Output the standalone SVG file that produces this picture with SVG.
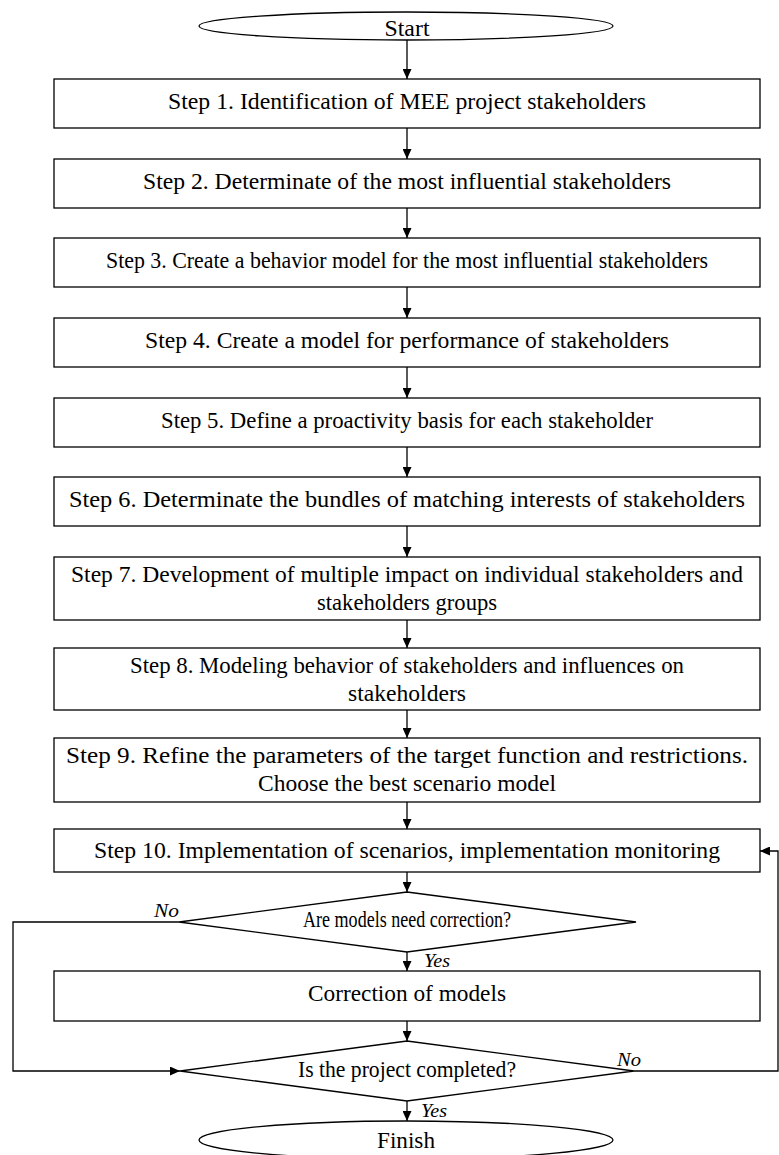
<svg xmlns="http://www.w3.org/2000/svg" width="779" height="1155" viewBox="0 0 779 1155">
<style>
.s{fill:#fff;stroke:#000;stroke-width:1.3}
.t{font-family:"Liberation Serif","Times New Roman",serif;font-size:24px;fill:#000;text-anchor:middle}
.i{font-family:"Liberation Serif","Times New Roman",serif;font-size:18px;font-style:italic;fill:#000}
.c{fill:none;stroke:#000;stroke-width:1.3}
</style>
<defs>
<marker id="ah" markerUnits="userSpaceOnUse" markerWidth="10" markerHeight="9" refX="10" refY="4.5" orient="auto">
<path d="M0,0 L10,4.5 L0,9 z" fill="#000"/>
</marker>
</defs>
<rect width="779" height="1155" fill="#fff"/>
<g id="start"><ellipse class="s" cx="406" cy="26" rx="207" ry="14"/><text class="t" x="407" y="36" font-size="22" textLength="45" lengthAdjust="spacingAndGlyphs">Start</text></g>
<g id="step1"><rect class="s" x="54" y="79" width="706" height="49"/><text class="t" x="407" y="109" textLength="478" lengthAdjust="spacingAndGlyphs">Step 1. Identification of MEE project stakeholders</text></g>
<g id="step2"><rect class="s" x="54" y="159" width="706" height="49"/><text class="t" x="407" y="189" textLength="528" lengthAdjust="spacingAndGlyphs">Step 2. Determinate of the most influential stakeholders</text></g>
<g id="step3"><rect class="s" x="54" y="238" width="706" height="49"/><text class="t" x="407" y="268" font-size="22" textLength="602" lengthAdjust="spacingAndGlyphs">Step 3. Create a behavior model for the most influential stakeholders</text></g>
<g id="step4"><rect class="s" x="54" y="318" width="706" height="49"/><text class="t" x="407" y="348" textLength="524" lengthAdjust="spacingAndGlyphs">Step 4. Create a model for performance of stakeholders</text></g>
<g id="step5"><rect class="s" x="54" y="398" width="706" height="49"/><text class="t" x="407" y="428" textLength="492" lengthAdjust="spacingAndGlyphs">Step 5. Define a proactivity basis for each stakeholder</text></g>
<g id="step6"><rect class="s" x="54" y="477" width="706" height="49"/><text class="t" x="407" y="507" textLength="676" lengthAdjust="spacingAndGlyphs">Step 6. Determinate the bundles of matching interests of stakeholders</text></g>
<g id="step7"><rect class="s" x="54" y="557" width="706" height="63"/><text class="t" x="407" y="582" textLength="672" lengthAdjust="spacingAndGlyphs">Step 7. Development of multiple impact on individual stakeholders and</text><text class="t" x="407" y="610" textLength="180" lengthAdjust="spacingAndGlyphs">stakeholders groups</text></g>
<g id="step8"><rect class="s" x="54" y="648" width="706" height="62"/><text class="t" x="407" y="673" textLength="554" lengthAdjust="spacingAndGlyphs">Step 8. Modeling behavior of stakeholders and influences on</text><text class="t" x="407" y="701" textLength="118" lengthAdjust="spacingAndGlyphs">stakeholders</text></g>
<g id="step9"><rect class="s" x="54" y="738" width="706" height="64"/><text class="t" x="407" y="763" textLength="682" lengthAdjust="spacingAndGlyphs">Step 9. Refine the parameters of the target function and restrictions.</text><text class="t" x="407" y="791" textLength="298" lengthAdjust="spacingAndGlyphs">Choose the best scenario model</text></g>
<g id="step10"><rect class="s" x="54" y="829" width="706" height="43"/><text class="t" x="407" y="858" textLength="626" lengthAdjust="spacingAndGlyphs">Step 10. Implementation of scenarios, implementation monitoring</text></g>
<g id="decision1"><polygon class="s" points="407,892 636,922 407,952 179,922"/><text class="t" x="407" y="927" font-size="17" textLength="208" lengthAdjust="spacingAndGlyphs">Are models need correction?</text></g>
<g id="correction"><rect class="s" x="54" y="971" width="706" height="50"/><text class="t" x="407" y="1001" textLength="198" lengthAdjust="spacingAndGlyphs">Correction of models</text></g>
<g id="decision2"><polygon class="s" points="407,1041 634,1071 407,1101 180,1071"/><text class="t" x="407" y="1077" font-size="22" textLength="218" lengthAdjust="spacingAndGlyphs">Is the project completed?</text></g>
<g id="finish"><ellipse class="s" cx="406" cy="1140" rx="207" ry="19"/><text class="t" x="406" y="1148" font-size="22" textLength="58" lengthAdjust="spacingAndGlyphs">Finish</text></g>
<g id="connectors">
<path class="c" marker-end="url(#ah)" d="M407,40 V79"/>
<path class="c" marker-end="url(#ah)" d="M407,128 V159"/>
<path class="c" marker-end="url(#ah)" d="M407,208 V238"/>
<path class="c" marker-end="url(#ah)" d="M407,287 V318"/>
<path class="c" marker-end="url(#ah)" d="M407,367 V398"/>
<path class="c" marker-end="url(#ah)" d="M407,447 V477"/>
<path class="c" marker-end="url(#ah)" d="M407,526 V557"/>
<path class="c" marker-end="url(#ah)" d="M407,620 V648"/>
<path class="c" marker-end="url(#ah)" d="M407,710 V738"/>
<path class="c" marker-end="url(#ah)" d="M407,802 V829"/>
<path class="c" marker-end="url(#ah)" d="M407,872 V892"/>
<path class="c" marker-end="url(#ah)" d="M407,952 V971"/>
<path class="c" marker-end="url(#ah)" d="M407,1021 V1041"/>
<path class="c" marker-end="url(#ah)" d="M407,1101 V1121"/>
<path class="c" marker-end="url(#ah)" d="M179,922 H13 V1071 H180"/>
<path class="c" marker-end="url(#ah)" d="M634,1071 H778 V851 H760"/>
<text class="i" x="154" y="917" textLength="25" lengthAdjust="spacingAndGlyphs">No</text>
<text class="i" x="424" y="967" textLength="26" lengthAdjust="spacingAndGlyphs">Yes</text>
<text class="i" x="617" y="1066" textLength="24" lengthAdjust="spacingAndGlyphs">No</text>
<text class="i" x="421" y="1117" textLength="26" lengthAdjust="spacingAndGlyphs">Yes</text>
</g>
</svg>
